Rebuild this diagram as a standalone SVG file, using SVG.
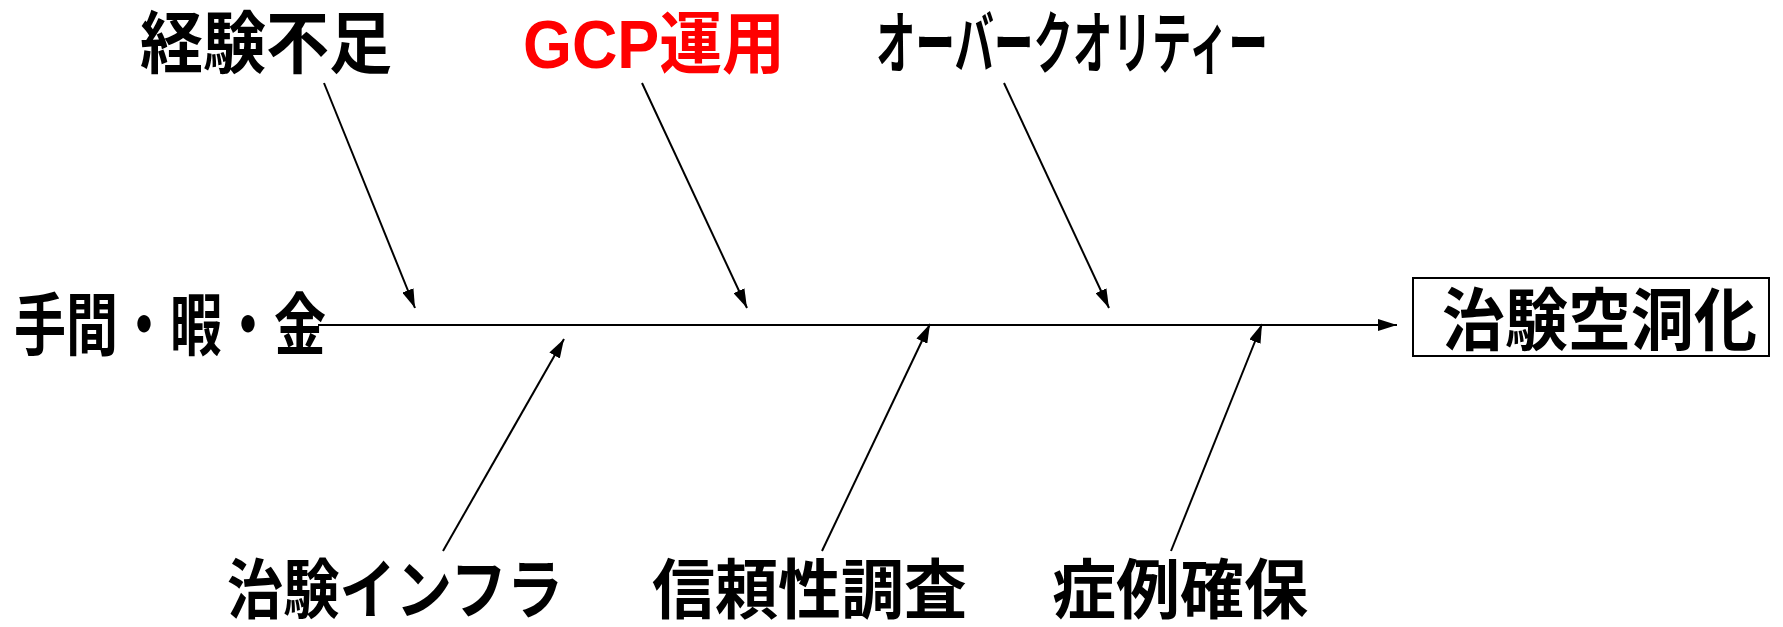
<svg xmlns="http://www.w3.org/2000/svg" width="1783" height="627" viewBox="0 0 1783 627">
<style>
.t{font-family:"Liberation Sans","Noto Sans CJK JP",sans-serif;font-weight:bold;font-size:68px;fill:#000}
.b{font-size:65px}
.red{fill:#ff0000}
.c{stroke:#000;stroke-width:2;fill:none}
</style>
<defs>
<marker id="a" viewBox="0 0 19 12" refX="19" refY="6" markerWidth="19" markerHeight="12" markerUnits="userSpaceOnUse" orient="auto">
<path d="M0,0 L19,6 L0,12 Z" fill="#000"/>
</marker>
</defs>
<g id="connectors">
<line class="c" x1="318" y1="325" x2="1397" y2="325" stroke-width="2.5" marker-end="url(#a)"/>
<line class="c" x1="324" y1="83" x2="415" y2="308" marker-end="url(#a)"/>
<line class="c" x1="642" y1="83" x2="747" y2="308" marker-end="url(#a)"/>
<line class="c" x1="1004" y1="83" x2="1109" y2="308" marker-end="url(#a)"/>
<line class="c" x1="443" y1="551" x2="564" y2="339" marker-end="url(#a)"/>
<line class="c" x1="822" y1="551" x2="930" y2="324" marker-end="url(#a)"/>
<line class="c" x1="1171" y1="551" x2="1262" y2="324" marker-end="url(#a)"/>
</g>
<g id="node-effect">
<rect x="1413" y="278" width="356" height="78" fill="#fff" stroke="#000" stroke-width="2"/>
<text class="t" x="1442" y="345" textLength="315" lengthAdjust="spacingAndGlyphs">治験空洞化</text>
</g>
<g id="node-head">
<text class="t" x="14" y="350" textLength="312" lengthAdjust="spacingAndGlyphs">手間・暇・金</text>
</g>
<g id="node-keiken">
<text class="t" x="140" y="68" textLength="252" lengthAdjust="spacingAndGlyphs">経験不足</text>
</g>
<g id="node-gcp">
<text class="t red" x="523" y="68" textLength="262" lengthAdjust="spacingAndGlyphs">GCP運用</text>
</g>
<g id="node-over">
<text class="t" x="876" y="68" textLength="392" lengthAdjust="spacingAndGlyphs">オーバークオリティー</text>
</g>
<g id="node-infra">
<text class="t b" x="227" y="613" textLength="336" lengthAdjust="spacingAndGlyphs">治験インフラ</text>
</g>
<g id="node-shinrai">
<text class="t b" x="652" y="613" textLength="315" lengthAdjust="spacingAndGlyphs">信頼性調査</text>
</g>
<g id="node-shorei">
<text class="t b" x="1052" y="613" textLength="256" lengthAdjust="spacingAndGlyphs">症例確保</text>
</g>
</svg>
